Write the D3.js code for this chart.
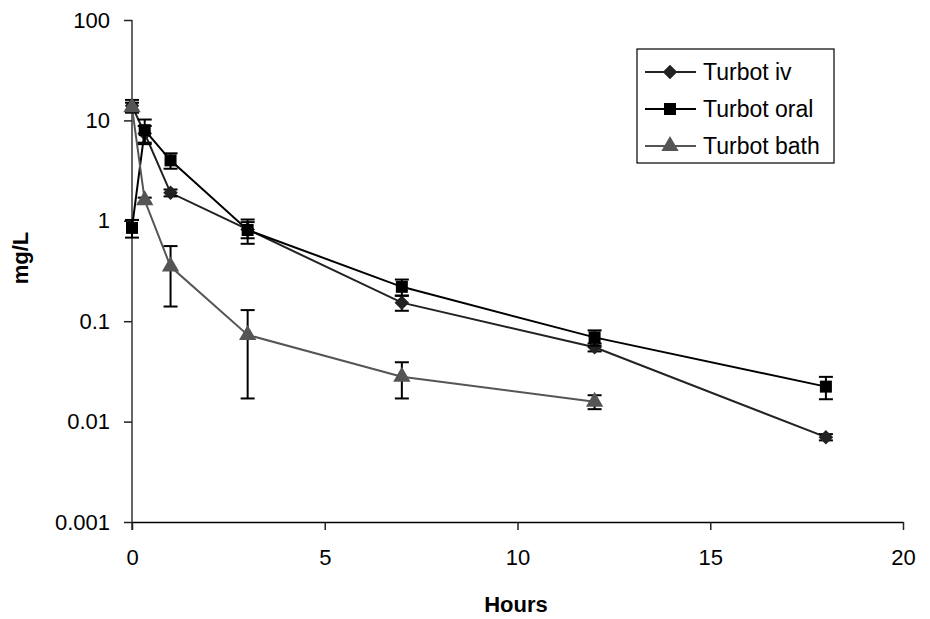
<!DOCTYPE html>
<html>
<head>
<meta charset="utf-8">
<script src="https://cdn.jsdelivr.net/npm/d3@7"></script>
<style>
  body { margin: 0; background: #fff; }
  text { font-family: "Liberation Sans", Arial, sans-serif; }
</style>
</head>
<body>
<svg></svg>
<script>
// turbot plasma concentrations, log scale

const width = 930;
const height = 619;

const ivTime = [0, 0.33, 1, 3, 7, 12, 18];
const ivConc = [14, 7.4, 1.9, 0.82, 0.153, 0.055, 0.007];
const ivSd = [2, 1.4, 0.15, 0.15, 0.026, 0.005, 0.0005];

const oralTime = [0, 0.33, 1, 3, 7, 12, 18];
const oralConc = [0.85, 8.0, 4.0, 0.81, 0.22, 0.069, 0.0223];
const oralSd = [0.17, 2.2, 0.7, 0.22, 0.04, 0.012, 0.0056];

const bathTime = [0, 0.33, 1, 3, 7, 12];
const bathConc = [13.5, 1.6, 0.35, 0.073, 0.028, 0.0158];
const bathSd = [1.5, 0.1, 0.21, 0.056, 0.011, 0.0025];

const seriesNames = ["Turbot iv", "Turbot oral", "Turbot bath"];
const yTicks = [0.001, 0.01, 0.1, 1, 10, 100];
const yTickLabels = ["0.001", "0.01", "0.1", "1", "10", "100"];
const xTicks = [0, 5, 10, 15, 20];

let svg = d3.select("svg")
    .attr("width", width)
    .attr("height", height)

const x = d3.scaleLinear().domain([0, 20]).range([132, 903]);
const y = d3.scaleLog().domain([0.001, 100]).range([522, 20]);

// axes
const yAxis = svg.append("g")
    .attr("transform", "translate(132,0)")
    .call(d3.axisLeft(y).tickValues(yTicks)
        .tickFormat((d, i) => yTickLabels[i])
        .tickSize(8).tickPadding(14).tickSizeOuter(0))
yAxis.select(".domain").attr("stroke", "#666").attr("stroke-width", 2)
    .attr("d", "M0,20V530")
yAxis.selectAll(".tick line").attr("stroke", "#222").attr("stroke-width", 1.5)
yAxis.selectAll("text").attr("font-size", 22).attr("fill", "#000")

const xAxis = svg.append("g")
    .attr("transform", "translate(0,522)")
    .call(d3.axisBottom(x).tickValues(xTicks)
        .tickSize(8).tickPadding(19).tickSizeOuter(0))
xAxis.select(".domain").attr("stroke", "#000").attr("stroke-width", 1.5)
xAxis.selectAll(".tick line").attr("stroke", "#222").attr("stroke-width", 1.5)
xAxis.selectAll("text").attr("font-size", 22).attr("fill", "#000")

svg.append("text")
    .attr("x", 516).attr("y", 612)
    .attr("text-anchor", "middle")
    .attr("font-size", 22).attr("font-weight", "bold")
    .text("Hours")

svg.append("text")
    .attr("transform", "translate(28,258) rotate(-90)")
    .attr("text-anchor", "middle")
    .attr("font-size", 22).attr("font-weight", "bold")
    .text("mg/L")

const diamond = d3.symbol().type(d3.symbolDiamond2).size(135)();
const square = d3.symbol().type(d3.symbolSquare).size(144)();
const triangle = d3.symbol().type(d3.symbolTriangle).size(130)();

const series = [
    { time: ivTime, conc: ivConc, sd: ivSd, color: "#222", marker: diamond },
    { time: oralTime, conc: oralConc, sd: oralSd, color: "#000", marker: square },
    { time: bathTime, conc: bathConc, sd: bathSd, color: "#555", marker: triangle }
];

const line = d3.line().x(d => x(d[0])).y(d => y(d[1]));

series.forEach(s => {
    const pts = s.time.map((t, i) => [t, s.conc[i], s.sd[i]]);
    const g = svg.append("g");

    g.append("path")
        .attr("d", line(pts))
        .attr("fill", "none")
        .attr("stroke", s.color)
        .attr("stroke-width", 2)

    // error bars
    pts.forEach(p => {
        const lo = Math.max(p[1] - p[2], 0.001);
        const hi = p[1] + p[2];
        const cx = x(p[0]);
        g.append("line")
            .attr("x1", cx).attr("x2", cx)
            .attr("y1", y(lo)).attr("y2", y(hi))
            .attr("stroke", "#000").attr("stroke-width", 2)
        g.append("line")
            .attr("x1", cx - 7).attr("x2", cx + 7)
            .attr("y1", y(lo)).attr("y2", y(lo))
            .attr("stroke", "#000").attr("stroke-width", 2)
        g.append("line")
            .attr("x1", cx - 7).attr("x2", cx + 7)
            .attr("y1", y(hi)).attr("y2", y(hi))
            .attr("stroke", "#000").attr("stroke-width", 2)
    });

    g.selectAll(".pt")
        .data(pts)
        .join("path")
        .attr("transform", d => `translate(${x(d[0])},${y(d[1])})`)
        .attr("d", s.marker)
        .attr("fill", s.color)
});

// legend
const legend = svg.append("g");
legend.append("rect")
    .attr("x", 637).attr("y", 49)
    .attr("width", 197).attr("height", 114)
    .attr("fill", "#fff")
    .attr("stroke", "#000").attr("stroke-width", 1.2)

seriesNames.forEach((name, i) => {
    const ly = 72 + i * 37;
    legend.append("line")
        .attr("x1", 645).attr("x2", 696)
        .attr("y1", ly).attr("y2", ly)
        .attr("stroke", series[i].color).attr("stroke-width", 2)
    legend.append("path")
        .attr("transform", `translate(670,${ly})`)
        .attr("d", series[i].marker)
        .attr("fill", series[i].color)
    legend.append("text")
        .attr("x", 703).attr("y", ly + 8)
        .attr("font-size", 23)
        .text(name)
});
</script>
</body>
</html>
